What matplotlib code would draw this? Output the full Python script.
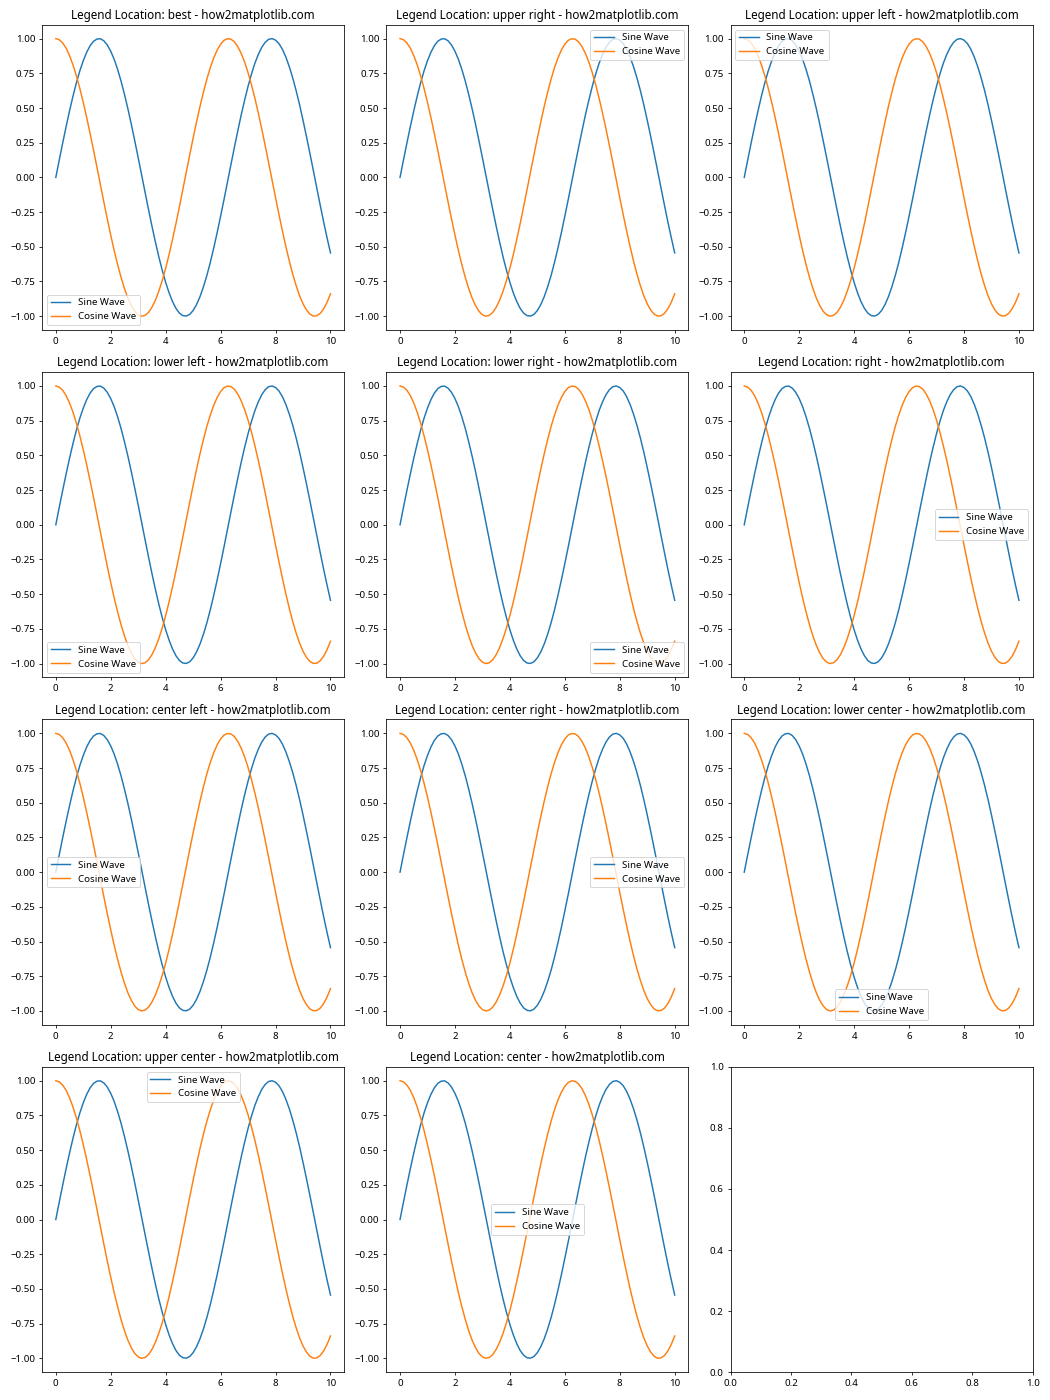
import matplotlib
matplotlib.use("Agg")
import matplotlib.pyplot as plt

plt.rcParams['font.family'] = ['Noto Sans', 'DejaVu Sans']

# x samples (0..10 in steps of 0.125)
x = [0.0, 0.125, 0.25, 0.375, 0.5, 0.625, 0.75, 0.875, 1.0, 1.125,
     1.25, 1.375, 1.5, 1.625, 1.75, 1.875, 2.0, 2.125, 2.25, 2.375,
     2.5, 2.625, 2.75, 2.875, 3.0, 3.125, 3.25, 3.375, 3.5, 3.625,
     3.75, 3.875, 4.0, 4.125, 4.25, 4.375, 4.5, 4.625, 4.75, 4.875,
     5.0, 5.125, 5.25, 5.375, 5.5, 5.625, 5.75, 5.875, 6.0, 6.125,
     6.25, 6.375, 6.5, 6.625, 6.75, 6.875, 7.0, 7.125, 7.25, 7.375,
     7.5, 7.625, 7.75, 7.875, 8.0, 8.125, 8.25, 8.375, 8.5, 8.625,
     8.75, 8.875, 9.0, 9.125, 9.25, 9.375, 9.5, 9.625, 9.75, 9.875,
     10.0]

sine_wave = [0.000, 0.125, 0.247, 0.366, 0.479, 0.585, 0.682, 0.768, 0.841, 0.902,
             0.949, 0.981, 0.997, 0.999, 0.984, 0.954, 0.909, 0.851, 0.778, 0.694,
             0.598, 0.494, 0.382, 0.263, 0.141, 0.017, -0.108, -0.231, -0.351, -0.465,
             -0.572, -0.669, -0.757, -0.832, -0.895, -0.944, -0.978, -0.996, -0.999, -0.987,
             -0.959, -0.916, -0.859, -0.788, -0.706, -0.612, -0.508, -0.397, -0.279, -0.158,
             -0.033, 0.092, 0.215, 0.335, 0.451, 0.558, 0.657, 0.746, 0.824, 0.887,
             0.938, 0.974, 0.995, 1.000, 0.989, 0.964, 0.923, 0.867, 0.798, 0.717,
             0.625, 0.523, 0.412, 0.295, 0.174, 0.050, -0.075, -0.199, -0.320, -0.435,
             -0.544]

cosine_wave = [1.000, 0.992, 0.969, 0.931, 0.878, 0.811, 0.732, 0.641, 0.540, 0.431,
               0.315, 0.195, 0.071, -0.054, -0.178, -0.300, -0.416, -0.527, -0.628, -0.720,
               -0.801, -0.870, -0.924, -0.965, -0.990, -1.000, -0.994, -0.973, -0.936, -0.885,
               -0.820, -0.743, -0.654, -0.555, -0.446, -0.332, -0.211, -0.087, 0.038, 0.162,
               0.284, 0.401, 0.512, 0.615, 0.709, 0.791, 0.861, 0.918, 0.960, 0.988,
               0.999, 0.996, 0.977, 0.942, 0.893, 0.830, 0.754, 0.666, 0.568, 0.461,
               0.347, 0.227, 0.104, -0.021, -0.146, -0.268, -0.386, -0.498, -0.602, -0.697,
               -0.780, -0.853, -0.911, -0.955, -0.985, -0.999, -0.997, -0.980, -0.947, -0.900,
               -0.839]

locations = ['best', 'upper right', 'upper left', 'lower left', 'lower right',
             'right', 'center left', 'center right', 'lower center',
             'upper center', 'center']

fig, axes = plt.subplots(4, 3, figsize=(15, 20))
axes = axes.flatten()

for ax, loc in zip(axes, locations):
    ax.plot(x, sine_wave, label='Sine Wave')
    ax.plot(x, cosine_wave, label='Cosine Wave')
    ax.legend(loc=loc)
    ax.set_title(f'Legend Location: {loc} - how2matplotlib.com')

plt.tight_layout()
plt.savefig('out.png', dpi=70)
